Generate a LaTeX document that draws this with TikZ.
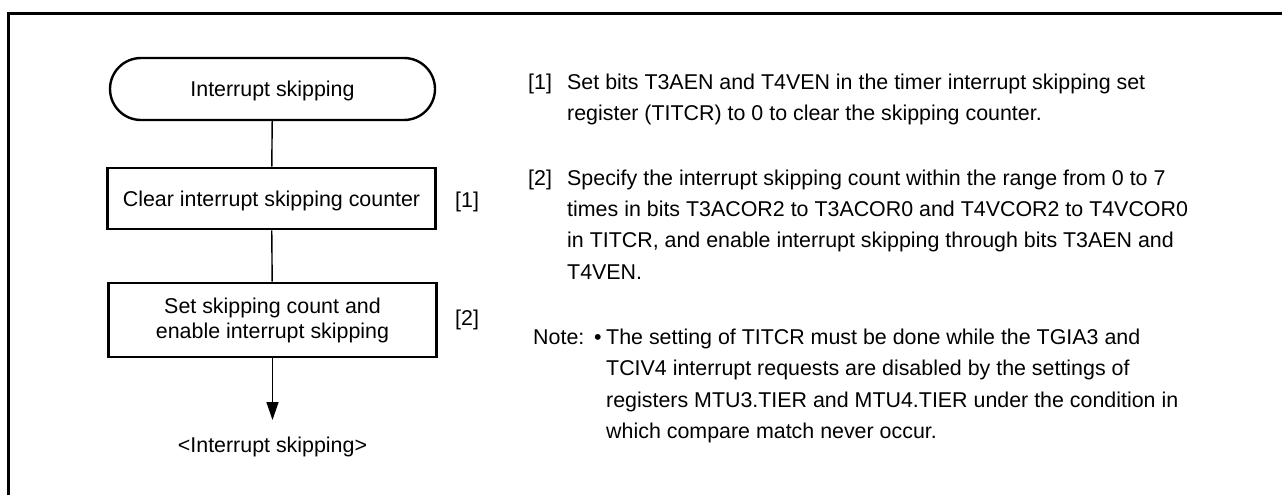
\documentclass[tikz,border=0pt]{standalone}
\usepackage{fontspec}
\setmainfont{Liberation Sans}
\usetikzlibrary{arrows.meta}
\begin{document}
\begin{tikzpicture}[x=1pt,y=-1pt,
  every node/.style={font=\fontsize{21.4}{25}\selectfont, inner sep=0pt},
  proc/.style={draw, line width=2.6pt, minimum width=328pt},
  oneline/.style={text height=15.4pt, text depth=0pt},
  term/.style={draw, line width=2.4pt, rounded corners=31pt, minimum width=325pt, minimum height=62pt, text height=15.4pt, text depth=0pt},
  flow/.style={line width=1.4pt},
  txt/.style={anchor=base west},
  frame/.style={line width=3pt},
]
\useasboundingbox (0,0) rectangle (1282,495);
\draw[frame] (8.2,496) -- (8.2,13.5) -- (1283,13.5);

% flowchart
\node[term] (start) at (272.5,89) {Interrupt skipping};
\node[proc, oneline, minimum height=61pt] (clr) at (271.5,198.5) {Clear interrupt skipping counter};
\node[proc, minimum height=74pt, align=center] (set) at (272.5,320) {Set skipping count and\\enable interrupt skipping};
\node[oneline] (end) at (272.5,445) {<Interrupt skipping>};
\coordinate (tip) at (272.5,420);

\draw[flow] (start) -- (clr);
\draw[flow] (clr) -- (set);
\draw[flow,-{Triangle[width=12pt,length=18pt]}] (set) -- (tip);

\node[txt] (l1) at (455,207.5) {[1]};
\node[txt] (l2) at (455,325.5) {[2]};

% description
\node[txt] (d1) at (528,89) {[1]};
\node[txt] (d1a) at (567,89) {Set bits T3AEN and T4VEN in the timer interrupt skipping set};
\node[txt] (d1b) at (567,120.5) {register (TITCR) to 0 to clear the skipping counter.};

\node[txt] (d2) at (528,185) {[2]};
\node[txt] (d2a) at (567,185) {Specify the interrupt skipping count within the range from 0 to 7};
\node[txt] (d2b) at (567,216.5) {times in bits T3ACOR2 to T3ACOR0 and T4VCOR2 to T4VCOR0};
\node[txt] (d2c) at (567,247.5) {in TITCR, and enable interrupt skipping through bits T3AEN and};
\node[txt] (d2d) at (567,279) {T4VEN.};

\node[txt] (nt) at (533,344) {Note:};
\node[txt] (bl) at (594,344) {•};
\node[txt] (n1) at (606,344) {The setting of TITCR must be done while the TGIA3 and};
\node[txt] (n2) at (606,375.5) {TCIV4 interrupt requests are disabled by the settings of};
\node[txt] (n3) at (606,407) {registers MTU3.TIER and MTU4.TIER under the condition in};
\node[txt] (n4) at (606,438.5) {which compare match never occur.};
\end{tikzpicture}
\end{document}
